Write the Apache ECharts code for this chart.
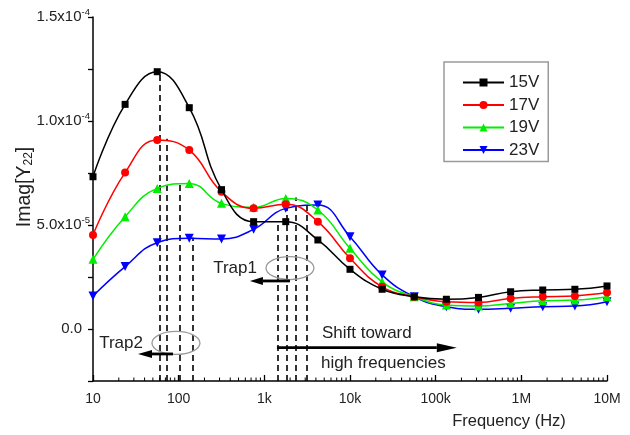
<!DOCTYPE html>
<html>
<head>
<meta charset="utf-8">
<script src="https://cdn.jsdelivr.net/npm/echarts@6/dist/echarts.min.js"></script>
<style>
  html, body { margin: 0; padding: 0; background: #fff; }
  #chart { width: 630px; height: 435px; }
</style>
</head>
<body>
<div id="chart"></div>
<script>
// Measurement frequencies (Hz)
const freq = [10, 23.7, 56.2, 133, 316, 750, 1778, 4217, 10000, 23714, 56234,
              133352, 316228, 749894, 1778279, 4216965, 10000000];

// Imag[Y22] for each drain bias
const v15 = [7.32e-5, 10.8e-5, 12.37e-5, 10.64e-5, 6.7e-5, 5.16e-5, 5.16e-5, 4.28e-5, 2.87e-5,
             1.91e-5, 1.55e-5, 1.43e-5, 1.52e-5, 1.79e-5, 1.875e-5, 1.91e-5, 2.07e-5];
const v17 = [4.52e-5, 7.52e-5, 9.09e-5, 8.6e-5, 6.6e-5, 5.8e-5, 6.0e-5, 5.16e-5, 3.4e-5,
             2.03e-5, 1.55e-5, 1.31e-5, 1.27e-5, 1.47e-5, 1.55e-5, 1.59e-5, 1.75e-5];
const v19 = [3.35e-5, 5.4e-5, 6.76e-5, 7.0e-5, 6.04e-5, 5.85e-5, 6.28e-5, 5.72e-5, 3.88e-5,
             2.27e-5, 1.55e-5, 1.15e-5, 1.1e-5, 1.23e-5, 1.36e-5, 1.39e-5, 1.55e-5];
const v23 = [1.59e-5, 3.0e-5, 4.15e-5, 4.36e-5, 4.33e-5, 4.79e-5, 5.8e-5, 5.96e-5, 4.44e-5,
             2.6e-5, 1.55e-5, 1.07e-5, 0.95e-5, 1.0e-5, 1.07e-5, 1.1e-5, 1.31e-5];

const seriesNames = ['15V', '17V', '19V', '23V'];

// Peak positions of the two trap responses (frequency, peak value) per bias
const trap2Freq = [60.5, 72.5, 103.5, 145.5];
const trap2Peak = [12.4e-5, 9.15e-5, 7.05e-5, 4.4e-5];
const trap1Freq = [1452, 1820, 2317, 3120];
const trap1Peak = [5.18e-5, 6.0e-5, 6.32e-5, 6.15e-5];

// Axis ranges and tick labels
const xMin = 10, xMax = 1e7;
const yMin = -2.5e-5, yMax = 1.5e-4, yStep = 2.5e-5;
const xTickLabels = ['10', '100', '1k', '10k', '100k', '1M', '10M'];
const xDecades = [10, 100, 1e3, 1e4, 1e5, 1e6];
const xMinorFactors = [2, 3, 4, 5, 6, 7, 8, 9];
const yTickLabels = { 0: '0.0', 2: ['5.0x10', '-5'], 4: ['1.0x10', '-4'], 6: ['1.5x10', '-4'] };

const colors = ['#000000', '#ff0000', '#00ee00', '#0000ff'];
const symbols = ['rect', 'circle', 'triangle', 'triangle'];
const symbolSizes = [7, 8, 9, 9];
const symbolRotates = [0, 0, 0, 180];
const values = [v15, v17, v19, v23];

const font = 'Liberation Sans, Arial, Helvetica, sans-serif';
const textColor = '#222';

const chart = echarts.init(document.getElementById('chart'), null, { renderer: 'canvas' });

const series = values.map((vals, i) => ({
  name: seriesNames[i],
  type: 'line',
  data: freq.map((f, k) => [f, vals[k]]),
  smooth: 0.45,
  symbol: symbols[i],
  symbolSize: symbolSizes[i],
  symbolRotate: symbolRotates[i],
  showAllSymbol: true,
  color: colors[i],
  lineStyle: { width: 1.5, color: colors[i] },
  itemStyle: { color: colors[i] },
  z: 3 + (3 - i),
  markLine: {
    silent: true,
    symbol: ['none', 'none'],
    label: { show: false },
    lineStyle: { color: '#000', type: [6, 4], width: 1.6 },
    data: [
      [{ coord: [trap2Freq[i], yMin] }, { coord: [trap2Freq[i], trap2Peak[i]] }],
      [{ coord: [trap1Freq[i], yMin] }, { coord: [trap1Freq[i], trap1Peak[i]] }]
    ],
    z: 2
  }
}));

chart.setOption({
  animation: false,
  textStyle: { fontFamily: font },
  grid: { left: 93, right: 23, top: 17, bottom: 54, containLabel: false, outerBoundsMode: 'none' },
  legend: {
    orient: 'vertical',
    left: 444,
    top: 62,
    data: seriesNames,
    itemWidth: 41,
    itemHeight: 10,
    itemGap: 5.5,
    padding: [12, 9, 3, 18],
    borderColor: '#9a9a9a',
    borderWidth: 1.5,
    textStyle: { fontSize: 17, color: textColor, fontFamily: font }
  },
  xAxis: {
    type: 'log',
    logBase: 10,
    min: xMin,
    max: xMax,
    name: 'Frequency (Hz)',
    nameLocation: 'middle',
    nameGap: 32,
    nameMoveOverlap: false,
    nameTextStyle: {
      fontSize: 16.5, color: textColor, fontFamily: font,
      padding: [0, 0, 0, 318]
    },
    splitLine: { show: false },
    axisLine: { onZero: false, lineStyle: { color: '#000', width: 1.5 } },
    axisTick: { inside: true, length: 6, lineStyle: { color: '#000', width: 1.3 } },
    minorTick: { show: false },
    axisLabel: {
      fontSize: 14, color: textColor, margin: 11,
      formatter: v => xTickLabels[Math.round(Math.log10(v)) - 1]
    }
  },
  yAxis: {
    type: 'value',
    min: yMin,
    max: yMax,
    interval: yStep,
    name: '{n|Imag[Y}{s|22}{n|]}',
    nameLocation: 'middle',
    nameGap: 58,
    nameMoveOverlap: false,
    nameRotate: 90,
    nameTextStyle: {
      padding: [0, 0, 0, 24],
      rich: {
        n: { fontSize: 19.5, color: textColor, fontFamily: font },
        s: { fontSize: 12, color: textColor, fontFamily: font, padding: [8, 0, 0, 0] }
      }
    },
    splitLine: { show: false },
    axisLine: { show: true, onZero: false, lineStyle: { color: '#000', width: 1.5 } },
    axisTick: { show: true, length: 5, lineStyle: { color: '#000', width: 1.3 } },
    axisLabel: {
      margin: 3,
      formatter: v => {
        const k = Math.round(v / yStep);
        const lab = yTickLabels[k];
        if (lab === undefined) return '';
        if (typeof lab === 'string') return '{p|' + lab + '}';
        return '{m|' + lab[0] + '}{e|' + lab[1] + '}';
      },
      rich: {
        m: { fontSize: 15, color: textColor, fontFamily: font },
        p: { fontSize: 15, color: textColor, fontFamily: font, padding: [0, 8, 0, 0] },
        e: { fontSize: 9.5, color: textColor, fontFamily: font, padding: [0, 0, 9, 0] }
      }
    }
  },
  series: series
});

// Annotations: ellipses, arrows and captions anchored in data coordinates
function px(f, v) { return chart.convertToPixel({ gridIndex: 0 }, [f, v]); }

function arrow(from, to, width, headLen, headHalf) {
  const dx = to[0] - from[0];
  const dir = dx > 0 ? 1 : -1;
  const baseX = to[0] - dir * headLen;
  return [
    { type: 'line', shape: { x1: from[0], y1: from[1], x2: baseX, y2: to[1] },
      style: { stroke: '#000', lineWidth: width }, z: 10 },
    { type: 'polygon', shape: { points: [[to[0], to[1]], [baseX, to[1] - headHalf], [baseX, to[1] + headHalf]] },
      style: { fill: '#000' }, z: 10 }
  ];
}

const trap2Ellipse = { f: 93, v: -0.67e-5 };
const trap1Ellipse = { f: 1991, v: 2.93e-5 };
const trap1Arrow = { f0: 1991, f1: 679, v: 2.31e-5 };
const trap2Arrow = { f0: 85.8, f1: 33.5, v: -1.2e-5 };
const shiftArrow = { f0: 1403, f1: 176600, v: -0.9e-5 };

const e2 = px(trap2Ellipse.f, trap2Ellipse.v);
const e1 = px(trap1Ellipse.f, trap1Ellipse.v);
const a1s = px(trap1Arrow.f0, trap1Arrow.v), a1e = px(trap1Arrow.f1, trap1Arrow.v);
const a2s = px(trap2Arrow.f0, trap2Arrow.v), a2e = px(trap2Arrow.f1, trap2Arrow.v);
const ss = px(shiftArrow.f0, shiftArrow.v), se = px(shiftArrow.f1, shiftArrow.v);

const captionStyle = { fontSize: 17, fontFamily: font, fill: textColor };

// Log-spaced minor ticks (2..9 within each decade) on the frequency axis
const axisY = px(xMin, yMin)[1];
const minorTicks = [];
xDecades.forEach(d => {
  xMinorFactors.forEach(m => {
    const x = px(d * m, yMin)[0];
    minorTicks.push({ type: 'line', shape: { x1: x, y1: axisY, x2: x, y2: axisY - 3.5 },
      style: { stroke: '#000', lineWidth: 1 }, z: 5, silent: true });
  });
});

chart.setOption({
  graphic: [
    ...minorTicks,
    { type: 'ellipse', shape: { cx: e2[0], cy: e2[1], rx: 24, ry: 11.5 },
      style: { fill: 'none', stroke: '#999', lineWidth: 1.3 }, z: 10 },
    { type: 'ellipse', shape: { cx: e1[0], cy: e1[1], rx: 24, ry: 11.5 },
      style: { fill: 'none', stroke: '#999', lineWidth: 1.3 }, z: 10 },
    ...arrow(a1s, a1e, 2.8, 13, 4),
    ...arrow(a2s, a2e, 2.8, 14, 4),
    ...arrow(ss, se, 2.8, 20, 4.5),
    { type: 'text', x: e1[0] - 33, y: e1[1],
      style: Object.assign({ text: 'Trap1', align: 'right', verticalAlign: 'middle' }, captionStyle), z: 10 },
    { type: 'text', x: e2[0] - 33, y: e2[1],
      style: Object.assign({ text: 'Trap2', align: 'right', verticalAlign: 'middle' }, captionStyle), z: 10 },
    { type: 'text', x: ss[0] + 45, y: ss[1] - 14,
      style: Object.assign({ text: 'Shift toward', align: 'left', verticalAlign: 'middle' }, captionStyle), z: 10 },
    { type: 'text', x: ss[0] + 44, y: ss[1] + 16,
      style: Object.assign({ text: 'high frequencies', align: 'left', verticalAlign: 'middle' }, captionStyle), z: 10 }
  ]
});
</script>
</body>
</html>
